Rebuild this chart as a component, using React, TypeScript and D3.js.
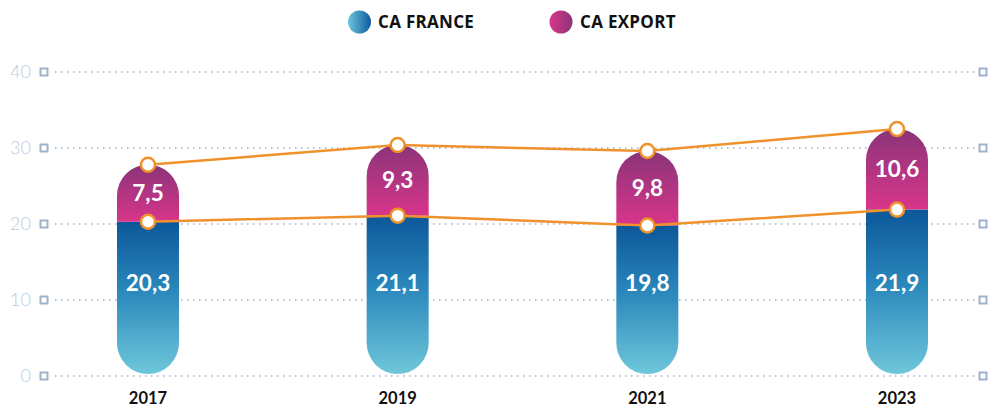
import React from 'react';
import * as d3 from 'd3';

const years = ['2017', '2019', '2021', '2023'];
const caFrance = [20.3, 21.1, 19.8, 21.9];
const caExport = [7.5, 9.3, 9.8, 10.6];
const yTicks = [0, 10, 20, 30, 40];
const legendLabels = ['CA FRANCE', 'CA EXPORT'];

const W = 993;
const H = 408;
const fmt = (v: number) => String(v).replace('.', ',');

const App = () => {
  const x = d3.scalePoint<string>().domain(years).range([148, 897]);
  const y = d3.scaleLinear().domain([0, 40]).range([376, 72]);
  const barW = 62;
  const r = barW / 2;

  const totals = caFrance.map((v, i) => v + caExport[i]);

  const bottomPill = (cx: number, top: number, bottom: number) => {
    const p = d3.path();
    p.moveTo(cx - r, top);
    p.lineTo(cx + r, top);
    p.lineTo(cx + r, bottom - r);
    p.arc(cx, bottom - r, r, 0, Math.PI, false);
    p.closePath();
    return p.toString();
  };
  const topPill = (cx: number, top: number, bottom: number) => {
    const p = d3.path();
    p.moveTo(cx - r, bottom);
    p.lineTo(cx - r, top + r);
    p.arc(cx, top + r, r, Math.PI, 0, false);
    p.lineTo(cx + r, bottom);
    p.closePath();
    return p.toString();
  };

  const line = d3.line<number>()
    .x((d, i) => x(years[i]) as number)
    .y((d) => y(d));

  const font = 'Lato, "Open Sans", sans-serif';
  const wide = '"Open Sans", Lato, sans-serif';

  // legend placement (centred over the plot)
  const legend = [
    { cx: 359.5, tx: 378, fill: 'url(#lFr)' },
    { cx: 561, tx: 580, fill: 'url(#lEx)' },
  ];

  return (
    <svg width={W} height={H} style={{ position: 'absolute', left: 0, top: 0 }}>
      <defs>
        <linearGradient id="gFr" x1="0" y1="0" x2="0" y2="1">
          <stop offset="0%" stopColor="#0c5799" />
          <stop offset="45%" stopColor="#2a87bb" />
          <stop offset="100%" stopColor="#6fc7da" />
        </linearGradient>
        <linearGradient id="gEx" x1="0" y1="0" x2="0" y2="1">
          <stop offset="0%" stopColor="#8a3479" />
          <stop offset="100%" stopColor="#d9358a" />
        </linearGradient>
        <linearGradient id="lFr" x1="0" y1="0" x2="1" y2="0">
          <stop offset="0%" stopColor="#6cc6dc" />
          <stop offset="100%" stopColor="#0f5a9d" />
        </linearGradient>
        <linearGradient id="lEx" x1="0" y1="0" x2="1" y2="0">
          <stop offset="0%" stopColor="#db368b" />
          <stop offset="100%" stopColor="#8a3479" />
        </linearGradient>
      </defs>

      {/* legend */}
      {legend.map((l, i) => (
        <g key={i}>
          <circle cx={l.cx} cy={22} r={11.5} fill={l.fill} />
          <text x={l.tx} y={27.5} fontFamily={wide} fontWeight={700} fontSize={17} letterSpacing={0.3} fill="#111">{legendLabels[i]}</text>
        </g>
      ))}

      {/* grid */}
      {yTicks.map((t) => (
        <g key={t}>
          <text x={31} y={y(t) + 6} textAnchor="end" fontFamily={font} fontWeight={300} fontSize={18} fill="#bccbdc">{t}</text>
          <rect x={40.5} y={y(t) - 3.5} width={7} height={7} fill="none" stroke="#9fb3ca" strokeWidth={2} />
          <line x1={55} x2={975} y1={y(t)} y2={y(t)} stroke="#9fb3ca" strokeWidth={1.6} strokeDasharray="1.6 4.4" />
          <rect x={979.5} y={y(t) - 3.5} width={7} height={7} fill="none" stroke="#9fb3ca" strokeWidth={2} />
        </g>
      ))}

      {/* bars */}
      {years.map((yr, i) => {
        const cx = x(yr) as number;
        return (
          <g key={yr}>
            <path d={bottomPill(cx, y(caFrance[i]), y(0) - 2)} fill="url(#gFr)" />
            <path d={topPill(cx, y(totals[i]), y(caFrance[i]))} fill="url(#gEx)" />
            <text x={cx} y={y(12.2) + 7.5} textAnchor="middle" fontFamily={font} fontWeight={700} fontSize={22.5} fill="#fff">{fmt(caFrance[i])}</text>
            <text x={cx} y={(y(totals[i]) + y(caFrance[i])) / 2 + 7.5} textAnchor="middle" fontFamily={font} fontWeight={700} fontSize={22.5} fill="#fff">{fmt(caExport[i])}</text>
            <text x={cx} y={404} textAnchor="middle" fontFamily={font} fontWeight={700} fontSize={16.5} fill="#111">{yr}</text>
          </g>
        );
      })}

      {/* lines */}
      {[caFrance, totals].map((s, k) => (
        <g key={k}>
          <path d={line(s) as string} fill="none" stroke="#f0922c" strokeWidth={2.5} />
          {s.map((v, i) => (
            <circle key={i} cx={x(years[i]) as number} cy={y(v)} r={7} fill="#fff" stroke="#f0922c" strokeWidth={2.5} />
          ))}
        </g>
      ))}
    </svg>
  );
};

export default App;
